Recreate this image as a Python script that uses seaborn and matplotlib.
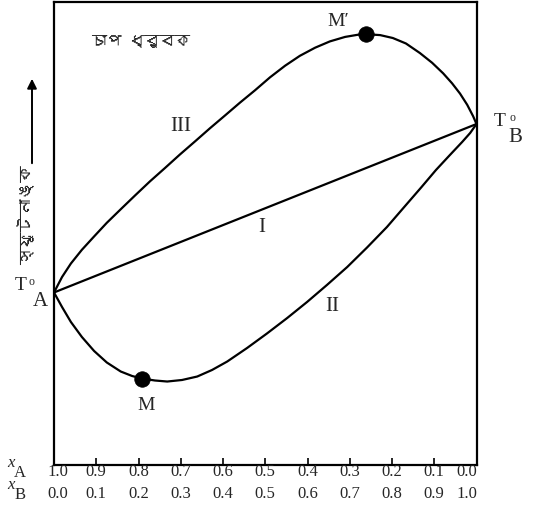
import numpy as np
import pandas as pd
import seaborn as sns
import matplotlib
matplotlib.use("Agg")
import matplotlib.pyplot as plt
from matplotlib import font_manager as fm
from matplotlib.transforms import blended_transform_factory

# ---------------- data (x = mole fraction of B, y = boiling temperature, arbitrary units) -------------
xb_ticks = [0.0, 0.1, 0.2, 0.3, 0.4, 0.5, 0.6, 0.7, 0.8, 0.9, 1.0]
xa_labels = ["1.0", "0.9", "0.8", "0.7", "0.6", "0.5", "0.4", "0.3", "0.2", "0.1", "0.0"]
xb_labels = ["0.0", "0.1", "0.2", "0.3", "0.4", "0.5", "0.6", "0.7", "0.8", "0.9", "1.0"]

# curve I : ideal solution (straight line between the two pure boiling points)
curve1_x = [0.0, 1.0]
curve1_y = [37.26, 73.65]

# curve II : minimum boiling azeotrope (M)
curve2_x = [0.0, 0.019, 0.040, 0.066, 0.095, 0.125, 0.158, 0.185, 0.208, 0.239, 0.268, 0.303,
            0.339, 0.374, 0.410, 0.457, 0.504, 0.552, 0.599, 0.646, 0.694, 0.741, 0.788,
            0.831, 0.869, 0.904, 0.937, 0.966, 0.985, 1.0]
curve2_y = [37.26, 34.13, 30.89, 27.65, 24.62, 22.14, 20.19, 19.22, 18.68, 18.25, 18.03, 18.36,
            19.11, 20.52, 22.35, 25.27, 28.40, 31.75, 35.21, 38.88, 42.76, 46.98, 51.40,
            55.94, 59.94, 63.71, 66.95, 69.76, 71.71, 73.65]

# curve III : maximum boiling azeotrope (M')
curve3_x = [0.0, 0.019, 0.040, 0.066, 0.095, 0.125, 0.159, 0.192, 0.227, 0.263, 0.298, 0.334,
            0.369, 0.405, 0.440, 0.476, 0.511, 0.547, 0.582, 0.618, 0.653, 0.689, 0.720,
            0.7385, 0.772, 0.802, 0.833, 0.866, 0.895, 0.921, 0.942, 0.961, 0.978, 0.992, 1.0]
curve3_y = [37.26, 40.6, 43.52, 46.48, 49.37, 52.31, 55.33, 58.23, 61.25, 64.17, 67.06, 69.91,
            72.72, 75.51, 78.25, 80.95, 83.71, 86.24, 88.38, 90.13, 91.49, 92.46, 92.94,
            93.05, 92.85, 92.22, 91.04, 88.98, 86.87, 84.6, 82.46, 80.22, 77.8, 75.33, 73.65]

# azeotrope points
azeo_x = [0.2083, 0.7385]
azeo_y = [18.68, 93.05]
azeo_names = ["M", "M\u2032"]
curve_names = ["I", "II", "III"]

title_text = "চাপ ধ্রুবক"
ylabel_text = "স্ফুটনাঙ্ক"


# ---------------- fonts ----------------
def find_font(codepoint):
    try:
        from fontTools.ttLib import TTFont
    except Exception:
        return None
    for f in fm.fontManager.ttflist:
        try:
            tt = TTFont(f.fname, fontNumber=0, lazy=True)
            cmap = tt.getBestCmap()
            if cmap and codepoint in cmap:
                return f.name
        except Exception:
            continue
    return None


sns.set_theme(style="white")
beng = find_font(0x099A)
serif = "Liberation Serif"
plt.rcParams["font.family"] = [serif, "DejaVu Serif"]
beng_family = [beng, serif, "DejaVu Sans"] if beng else [serif, "DejaVu Sans"]

W, H = 534, 516
fig = plt.figure(figsize=(W / 100, H / 100), dpi=100)
fig.patch.set_facecolor("white")
L, R, B, T = 54, 476.5, 465, 2
ax = fig.add_axes([L / W, (H - B) / H, (R - L) / W, (B - T) / H])
ax.set_facecolor("white")

df1 = pd.DataFrame({"x": curve1_x, "y": curve1_y})
df2 = pd.DataFrame({"x": curve2_x, "y": curve2_y})
df3 = pd.DataFrame({"x": curve3_x, "y": curve3_y})
for d in (df1, df2, df3):
    sns.lineplot(data=d, x="x", y="y", ax=ax, color="black", lw=1.6, sort=False,
                 estimator=None)
sns.scatterplot(x=azeo_x, y=azeo_y, ax=ax, color="black", s=125, edgecolor="black",
                linewidth=0.5, zorder=5)

ax.set_xlim(0, 1)
ax.set_ylim(0, 100)
ax.set_xlabel("")
ax.set_ylabel("")
ax.set_yticks([])
ax.set_xticks(xb_ticks)
ax.set_xticklabels([])
ax.tick_params(axis="x", direction="in", length=5, width=1.2, color="black", bottom=True)
for s in ax.spines.values():
    s.set_visible(True)
    s.set_color("black")
    s.set_linewidth(1.6)


def px(x, y):
    """figure fraction from reference pixel position"""
    return x / W, 1 - y / H


# two rows of composition labels under the axis
trans = blended_transform_factory(ax.transData, fig.transFigure)
n = len(xb_ticks)
for i, (xb, la, lb) in enumerate(zip(xb_ticks, xa_labels, xb_labels)):
    ha = "center"
    off = 0.0
    if i == 0:
        off = 3.5 / (R - L)
    if i == n - 1:
        off = -9.5 / (R - L)
    ax.text(xb + off, 1 - 472 / H, la, transform=trans, fontsize=12, family=serif,
            ha=ha, va="center")
    ax.text(xb + off, 1 - 494 / H, lb, transform=trans, fontsize=12, family=serif,
            ha=ha, va="center")

fig.text(*px(11, 463), "x", fontsize=12, style="italic", family=serif, ha="center", va="center")
fig.text(*px(20, 473), "A", fontsize=12, family=serif, ha="center", va="center")
fig.text(*px(11, 485), "x", fontsize=12, style="italic", family=serif, ha="center", va="center")
fig.text(*px(20, 495), "B", fontsize=12, family=serif, ha="center", va="center")

# curve labels
ax.text(0.299, 73.2, curve_names[2], fontsize=15, family=serif, ha="center", va="center")
ax.text(0.492, 51.4, curve_names[0], fontsize=15, family=serif, ha="center", va="center")
ax.text(0.658, 34.2, curve_names[1], fontsize=15, family=serif, ha="center", va="center")

# azeotrope labels
fig.text(*px(146, 405), azeo_names[0], fontsize=14, family=serif, ha="center", va="center")
fig.text(*px(338, 21), azeo_names[1], fontsize=14, family=serif, ha="center", va="center")

# title
fig.text(*px(141, 42), title_text, fontsize=11, family=beng_family, ha="center", va="center")

# pure component boiling points
fig.text(*px(21, 286), "T", fontsize=14, family=serif, ha="center", va="center")
fig.text(*px(31.5, 282), "o", fontsize=8.5, family=serif, ha="center", va="center")
fig.text(*px(40, 301), "A", fontsize=15, family=serif, ha="center", va="center")
fig.text(*px(500, 121), "T", fontsize=14, family=serif, ha="center", va="center")
fig.text(*px(512.5, 118), "o", fontsize=8.5, family=serif, ha="center", va="center")
fig.text(*px(515, 137), "B", fontsize=15, family=serif, ha="center", va="center")

# y axis label with arrow
fig.text(*px(26, 215), ylabel_text, fontsize=12, family=beng_family, rotation=90,
         ha="center", va="center")
ax.annotate("", xy=px(32, 76), xycoords="figure fraction",
            xytext=px(32, 166), textcoords="figure fraction",
            arrowprops=dict(arrowstyle="-|>", color="black", lw=1.4, mutation_scale=14))

fig.savefig("out.png", dpi=100, facecolor="white")
